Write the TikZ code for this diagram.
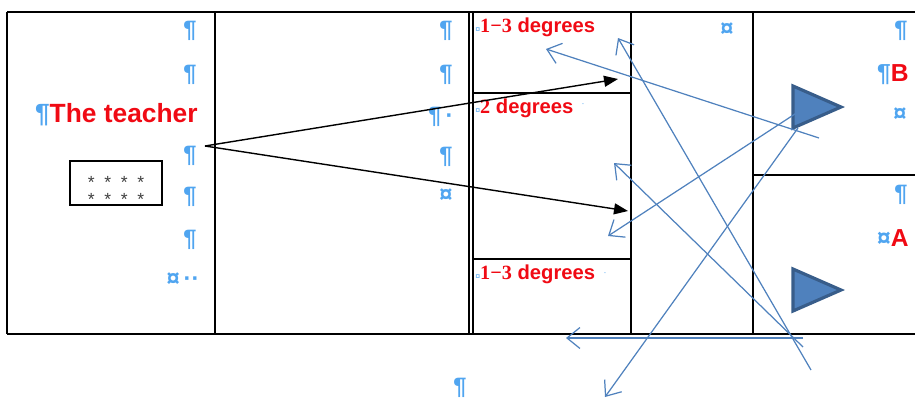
\documentclass[tikz,border=0pt]{standalone}
\usepackage{fontspec}
\setmainfont{Liberation Sans}
\newfontfamily\numfont{Liberation Serif}
\usetikzlibrary{arrows.meta, calc}
\definecolor{pilblue}{RGB}{80,165,240}
\definecolor{lineblue}{RGB}{79,129,189}
\definecolor{triedge}{RGB}{56,93,138}
\definecolor{txtred}{RGB}{240,10,20}
\tikzset{
  gridline/.style={line width=1.1pt, draw=black},
  pil/.style={
    text=pilblue, inner sep=0pt,
    font=\fontsize{13.5}{13.5}\selectfont\bfseries,
  },
  tiny mark/.style={
    text=pilblue, inner sep=0pt,
    font=\fontsize{5}{5}\selectfont,
  },
  redlabel/.style={
    text=txtred, inner sep=0pt, anchor=west,
    font=\fontsize{11.5}{12}\selectfont\bfseries,
  },
  starbox/.style={
    rectangle, draw=black, line width=0.8pt,
    minimum width=1.84cm, minimum height=0.88cm,
  },
  startext/.style={
    align=center, inner sep=0pt, text=black!75,
    font=\fontsize{10}{9.4}\selectfont,
  },
  tri/.style={
    fill=lineblue, draw=triedge, line width=1.8pt, line join=miter,
  },
  pointer/.style={
    -{Triangle[length=2.8mm, width=2.2mm]}, line width=0.8pt, draw=black,
  },
  blueline/.style={
    -{Straight Barb[length=2.6mm, width=4.2mm]}, line width=0.7pt, draw=lineblue,
  }
}

\begin{document}
\begin{tikzpicture}[x=0.02cm, y=-0.02cm]

  \useasboundingbox (0,0) rectangle (915,399);

  % Table frame
  \draw[gridline] (7,12) -- (915,12);
  \draw[gridline] (7,334) -- (915,334);
  \draw[gridline] (7,12) -- (7,334);
  \draw[gridline] (215,12) -- (215,334);
  \draw[gridline] (469,12) -- (469,334);
  \draw[gridline] (473,12) -- (473,334);
  \draw[gridline] (631,12) -- (631,334);
  \draw[gridline] (753,12) -- (753,334);
  \draw[gridline] (473,93) -- (631,93);
  \draw[gridline] (473,259) -- (631,259);
  \draw[gridline] (753,175) -- (915,175);

  % First column
  \node[pil] (p11) at (190,31) {¶};
  \node[pil] (p12) at (190,75) {¶};
  \node[inner sep=0pt, anchor=east, font=\fontsize{15}{16}\selectfont\bfseries]
    (teacher) at (198,115) {\textcolor{pilblue}{¶}\textcolor{txtred}{The teacher}};
  \node[pil] (p13) at (190,156) {¶};
  \node[pil] (p14) at (190,197) {¶};
  \node[pil] (p15) at (190,240) {¶};
  \node[pil] (p16) at (183,280) {¤\,··};
  \node[starbox] (stars) at (116,183) {};
  \node[startext] (starrows) at (116,191)
    {*\hspace{5.5pt}*\hspace{5.5pt}*\hspace{5.5pt}*\\
     *\hspace{5.5pt}*\hspace{5.5pt}*\hspace{5.5pt}*};

  % Second column
  \node[pil] (p21) at (446,31) {¶};
  \node[pil] (p22) at (446,75) {¶};
  \node[pil] (p23) at (441,117) {¶\,·};
  \node[pil] (p24) at (446,157) {¶};
  \node[pil] (p25) at (446,196) {¤};

  % Degree cells
  \node[redlabel] (deg1) at (475,27)
    {\textcolor{pilblue}{\mdseries\fontsize{5}{5}\selectfont¤}{\numfont\bfseries 1−3} degrees};
  \node[redlabel] (deg2) at (475,108)
    {\textcolor{pilblue}{\mdseries\fontsize{5}{5}\selectfont¤}{\numfont\bfseries 2} degrees};
  \node[tiny mark] (dot2) at (583,105) {·};
  \node[redlabel] (deg3) at (475,274)
    {\textcolor{pilblue}{\mdseries\fontsize{5}{5}\selectfont¤}{\numfont\bfseries 1−3} degrees};
  \node[tiny mark] (dot3) at (605,274) {·};

  % Fourth column
  \node[pil] (p41) at (727,30) {¤};

  % Right cells
  \node[pil] (p51) at (901,31) {¶};
  \node[inner sep=0pt, anchor=east, font=\fontsize{14}{14}\selectfont\bfseries]
    (labB) at (909,75) {\textcolor{pilblue}{¶}\textcolor{txtred}{B}};
  \node[pil] (p52) at (900,115) {¤};
  \node[pil] (p53) at (901,195) {¶};
  \node[inner sep=0pt, anchor=east, font=\fontsize{14}{14}\selectfont\bfseries]
    (labA) at (909,238) {\textcolor{pilblue}{¤}\textcolor{txtred}{A}};

  \node[pil] (p61) at (460,388) {¶};

  % Triangles
  \draw[tri] (793,86) -- (841,107) -- (793,128) -- cycle;
  \draw[tri] (793,269) -- (841,290) -- (793,311) -- cycle;

  % Black pointers
  \coordinate (src) at (205,146);
  \coordinate (hit1) at (618,79);
  \coordinate (hit2) at (628,211);
  \draw[pointer] (src) -- (hit1);
  \draw[pointer] (src) -- (hit2);

  % Blue lines
  \coordinate (a1) at (819,138);  \coordinate (e1) at (546,49);
  \coordinate (a2) at (811,370);  \coordinate (e2) at (618,38);
  \coordinate (a3) at (803,347);  \coordinate (e3) at (614,163);
  \coordinate (a4) at (798,112);  \coordinate (e4) at (608,236);
  \coordinate (a5) at (803,338);  \coordinate (e5) at (566,338);
  \coordinate (a6) at (798,128);  \coordinate (e6) at (605,397);
  \draw[blueline] (a1) -- (e1);
  \draw[blueline] (a2) -- (e2);
  \draw[blueline] (a3) -- (e3);
  \draw[blueline] (a4) -- (e4);
  \draw[blueline] (a5) -- (e5);
  \draw[blueline] (a6) -- (e6);

\end{tikzpicture}
\end{document}
